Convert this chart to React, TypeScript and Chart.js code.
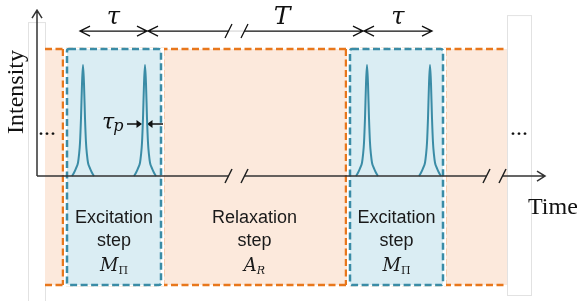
import { useEffect, useRef } from 'react';
import { Chart, registerables } from 'chart.js';

Chart.register(...registerables);

// ---- data (time units along the time axis, normalised intensity) ----
const pulseTimes = [46, 108, 330, 393];
const pulseOffsets = [-11, -9, -7, -5, -4, -3, -2, -1, 0, 1, 2, 3, 4, 5, 7, 9, 11];
const pulseShape = [0, 0.03, 0.07, 0.12, 0.19, 0.3, 0.52, 0.83, 1, 0.83, 0.52, 0.3, 0.19, 0.12, 0.07, 0.03, 0];
const stepNames = ['Excitation', 'Relaxation', 'Excitation'];
const stepWord = 'step';
const stepSymbols = [['M', 'Π'], ['A', 'R'], ['M', 'Π']];
const stepKinds = ['excitation', 'relaxation', 'excitation'];
const stepStarts = [30, 126, 313];
const stepEnds = [124, 309, 406];
const relaxEdges = [26, 126, 309, 408];
const sequenceSpan = [8, 470];
const intervalLabels = ['τ', 'T', 'τ'];
const intervalStarts = [43, 111, 327];
const intervalEnds = [110, 326, 395];
const timeBreaks = [188, 446];
const timeAxisEnd = 508;
const intensityAxisEnd = 1.495;
const pulseWidthLabel = ['τ', 'p'];
const axisTitles = ['Intensity', 'Time'];

const TEAL = '#3a8ca6';
const ORANGE = '#e8771c';
const PEACH = '#fce9dc';
const LIGHTBLUE = '#daedf3';
const AXIS = '#333333';

function buildDatasets() {
  return pulseTimes.map((t) => ({
    type: 'line' as const,
    data: pulseOffsets.map((d, i) => ({ x: t + d, y: pulseShape[i] })),
    borderColor: TEAL,
    borderWidth: 2,
    pointRadius: 0,
    tension: 0.4,
    cubicInterpolationMode: 'monotone' as const,
    fill: false,
    clip: false as any,
  }));
}

const schematicPlugin = {
  id: 'schematic',
  beforeDatasetsDraw(chart: any) {
    const ctx: CanvasRenderingContext2D = chart.ctx;
    const xs = chart.scales.x;
    const ys = chart.scales.y;
    const px = (v: number) => xs.getPixelForValue(v);
    const py = (v: number) => ys.getPixelForValue(v);
    const boxTop = 1.144;
    const boxBottom = -0.982;

    ctx.save();
    // faint frames at the ends
    ctx.strokeStyle = '#e2e2e2';
    ctx.lineWidth = 1;
    ctx.strokeRect(px(-9) + 0.5, py(1.387) + 0.5, px(sequenceSpan[0]) - px(-9), 400);
    ctx.strokeRect(px(sequenceSpan[1]) + 0.5, py(1.45) + 0.5, px(494) - px(sequenceSpan[1]), py(-1.072) - py(1.45));

    // relaxation background
    ctx.fillStyle = PEACH;
    ctx.fillRect(px(sequenceSpan[0]), py(boxTop), px(sequenceSpan[1]) - px(sequenceSpan[0]), py(boxBottom) - py(boxTop));

    // relaxation dashed borders
    ctx.lineWidth = 2.5;
    ctx.setLineDash([7, 3.5]);
    ctx.strokeStyle = ORANGE;
    ctx.beginPath();
    ctx.moveTo(px(sequenceSpan[0]), py(boxTop));
    ctx.lineTo(px(sequenceSpan[1]), py(boxTop));
    ctx.moveTo(px(sequenceSpan[0]), py(boxBottom));
    ctx.lineTo(px(sequenceSpan[1]), py(boxBottom));
    relaxEdges.forEach((e) => {
      ctx.moveTo(px(e), py(boxTop));
      ctx.lineTo(px(e), py(boxBottom));
    });
    ctx.stroke();

    // excitation boxes
    stepKinds.forEach((k, i) => {
      if (k !== 'excitation') return;
      const x0 = px(stepStarts[i]);
      const x1 = px(stepEnds[i]);
      const y0 = py(boxTop);
      const y1 = py(boxBottom);
      ctx.setLineDash([]);
      ctx.fillStyle = '#ffffff';
      ctx.fillRect(x0 - 3, y0 - 1.5, x1 - x0 + 6, y1 - y0 + 3);
      ctx.fillStyle = LIGHTBLUE;
      ctx.beginPath();
      ctx.roundRect(x0, y0, x1 - x0, y1 - y0, 2);
      ctx.fill();
      ctx.setLineDash([7, 3.5]);
      ctx.strokeStyle = TEAL;
      ctx.lineWidth = 2.5;
      ctx.beginPath();
      ctx.roundRect(x0, y0, x1 - x0, y1 - y0, 2);
      ctx.stroke();
    });
    ctx.setLineDash([]);

    // step texts
    stepNames.forEach((name, i) => {
      const cx = px((stepStarts[i] + stepEnds[i]) / 2);
      ctx.fillStyle = '#1a1a1a';
      ctx.textAlign = 'center';
      ctx.textBaseline = 'middle';
      ctx.font = '18px "Liberation Sans", Arial, sans-serif';
      ctx.fillText(name, cx, py(-0.38));
      ctx.fillText(stepWord, cx, py(-0.585));
      const [main, sub] = stepSymbols[i];
      ctx.font = 'italic 18px "DejaVu Serif", serif';
      const mw = ctx.measureText(main).width;
      ctx.font = (sub === 'Π' ? '' : 'italic ') + '11px "DejaVu Serif", serif';
      const sw = ctx.measureText(sub).width;
      const startX = cx - (mw + sw) / 2;
      ctx.textAlign = 'left';
      ctx.textBaseline = 'alphabetic';
      ctx.font = 'italic 18px "DejaVu Serif", serif';
      ctx.fillText(main, startX, py(-0.855));
      ctx.font = (sub === 'Π' ? '' : 'italic ') + '11px "DejaVu Serif", serif';
      ctx.fillText(sub, startX + mw, py(-0.885));
    });

    // interval arrows (top)
    const ay = py(1.306);
    const gapA = px(timeBreaks[0] + 3.5);
    const gapB = px(timeBreaks[0] + 19.5);
    ctx.strokeStyle = '#111111';
    ctx.lineWidth = 1.3;
    intervalStarts.forEach((s, i) => {
      const x0 = px(s);
      const x1 = px(intervalEnds[i]);
      ctx.beginPath();
      if (timeBreaks[0] > s && timeBreaks[0] < intervalEnds[i]) {
        ctx.moveTo(x0, ay);
        ctx.lineTo(gapA, ay);
        ctx.moveTo(gapB, ay);
        ctx.lineTo(x1, ay);
      } else {
        ctx.moveTo(x0, ay);
        ctx.lineTo(x1, ay);
      }
      ctx.moveTo(x0 + 10, ay - 5);
      ctx.lineTo(x0, ay);
      ctx.lineTo(x0 + 10, ay + 5);
      ctx.moveTo(x1 - 10, ay - 5);
      ctx.lineTo(x1, ay);
      ctx.lineTo(x1 - 10, ay + 5);
      ctx.stroke();
      const lx = i === 1 ? px(245) : px((s + intervalEnds[i]) / 2);
      ctx.fillStyle = '#111111';
      ctx.textAlign = 'center';
      ctx.textBaseline = 'alphabetic';
      ctx.font = intervalLabels[i] === 'T' ? 'italic 25px "DejaVu Serif", serif' : 'italic 24px "DejaVu Serif", serif';
      ctx.fillText(intervalLabels[i], lx, py(1.37));
    });
    // faint segment across break on top arrow
    ctx.strokeStyle = '#cfcfcf';
    ctx.lineWidth = 1;
    ctx.beginPath();
    ctx.moveTo(gapA, ay);
    ctx.lineTo(gapB, ay);
    ctx.stroke();
    // break slashes on top arrow
    ctx.strokeStyle = '#111111';
    ctx.lineWidth = 1.3;
    ctx.beginPath();
    [0, 16].forEach((o) => {
      ctx.moveTo(px(timeBreaks[0] + o), ay + 7);
      ctx.lineTo(px(timeBreaks[0] + o + 7), ay - 7);
    });
    ctx.stroke();

    // pulse width annotation
    const ty = py(0.468);
    const pt = pulseTimes[1];
    ctx.fillStyle = '#111111';
    ctx.font = 'italic 22px "DejaVu Serif", serif';
    ctx.textAlign = 'left';
    ctx.textBaseline = 'alphabetic';
    const tw = ctx.measureText(pulseWidthLabel[0]).width;
    ctx.fillText(pulseWidthLabel[0], px(65), py(0.423));
    ctx.font = 'italic 16px "DejaVu Serif", serif';
    ctx.fillText(pulseWidthLabel[1], px(65) + tw - 1, py(0.405));
    ctx.strokeStyle = '#111111';
    ctx.lineWidth = 1.5;
    ctx.beginPath();
    ctx.moveTo(px(90), ty);
    ctx.lineTo(px(pt - 6), ty);
    ctx.moveTo(px(126), ty);
    ctx.lineTo(px(pt + 6), ty);
    ctx.stroke();
    ctx.beginPath();
    ctx.moveTo(px(pt - 3), ty);
    ctx.lineTo(px(pt - 8.5), ty - 4);
    ctx.lineTo(px(pt - 8.5), ty + 4);
    ctx.closePath();
    ctx.moveTo(px(pt + 2), ty);
    ctx.lineTo(px(pt + 7.5), ty - 4);
    ctx.lineTo(px(pt + 7.5), ty + 4);
    ctx.closePath();
    ctx.fill();

    // ellipses
    ctx.font = '24px "Liberation Serif", serif';
    ctx.textAlign = 'center';
    ctx.textBaseline = 'alphabetic';
    ctx.fillText('...', px(10), py(0.37));
    ctx.fillText('...', px(482), py(0.37));

    // axis titles
    ctx.font = '24px "Liberation Serif", "Times New Roman", serif';
    ctx.save();
    ctx.translate(px(-20), py(0.757));
    ctx.rotate(-Math.PI / 2);
    ctx.textAlign = 'center';
    ctx.textBaseline = 'middle';
    ctx.fillText(axisTitles[0], 0, 0);
    ctx.restore();
    ctx.textAlign = 'left';
    ctx.textBaseline = 'alphabetic';
    ctx.fillText(axisTitles[1], px(491), py(-0.34));
    ctx.restore();
  },
  afterDatasetsDraw(chart: any) {
    const ctx: CanvasRenderingContext2D = chart.ctx;
    const xs = chart.scales.x;
    const ys = chart.scales.y;
    const px = (v: number) => xs.getPixelForValue(v);
    const py = (v: number) => ys.getPixelForValue(v);
    ctx.save();
    ctx.strokeStyle = AXIS;
    ctx.lineWidth = 1.5;
    ctx.setLineDash([]);
    const y0 = py(0);
    const x0 = px(0);
    ctx.beginPath();
    // intensity axis
    ctx.moveTo(x0, y0);
    ctx.lineTo(x0, py(intensityAxisEnd));
    ctx.moveTo(x0 - 5, py(intensityAxisEnd) + 8);
    ctx.lineTo(x0, py(intensityAxisEnd));
    ctx.lineTo(x0 + 5, py(intensityAxisEnd) + 8);
    // time axis with breaks
    let cur = 0;
    timeBreaks.forEach((b) => {
      ctx.moveTo(px(cur), y0);
      ctx.lineTo(px(b + 3.5), y0);
      cur = b + 19.5;
    });
    ctx.moveTo(px(cur), y0);
    ctx.lineTo(px(timeAxisEnd), y0);
    ctx.moveTo(px(timeAxisEnd) - 8, y0 - 5);
    ctx.lineTo(px(timeAxisEnd), y0);
    ctx.lineTo(px(timeAxisEnd) - 8, y0 + 5);
    ctx.stroke();
    ctx.lineWidth = 1.5;
    ctx.strokeStyle = '#222222';
    ctx.beginPath();
    timeBreaks.forEach((b) => {
      [0, 16].forEach((o) => {
        ctx.moveTo(px(b + o), y0 + 7);
        ctx.lineTo(px(b + o + 7), y0 - 7);
      });
    });
    ctx.stroke();
    ctx.restore();
  },
};

export default function App() {
  const ref = useRef<HTMLCanvasElement | null>(null);
  useEffect(() => {
    if (!ref.current) return;
    const chart = new Chart(ref.current, {
      type: 'scatter',
      data: { datasets: buildDatasets() as any },
      options: {
        animation: false,
        responsive: false,
        maintainAspectRatio: false,
        layout: { padding: 0 },
        scales: {
          x: { type: 'linear', display: false, min: -37, max: 540 },
          y: { type: 'linear', display: false, min: -1.126, max: 1.586 },
        },
        plugins: { legend: { display: false }, tooltip: { enabled: false } },
        events: [],
      },
      plugins: [schematicPlugin],
    });
    return () => chart.destroy();
  }, []);
  return (
    <div style={{ position: 'absolute', left: 0, top: 0, width: 577, height: 301, background: '#fff' }}>
      <canvas ref={ref} width={577} height={301} style={{ display: 'block' }} />
    </div>
  );
}
